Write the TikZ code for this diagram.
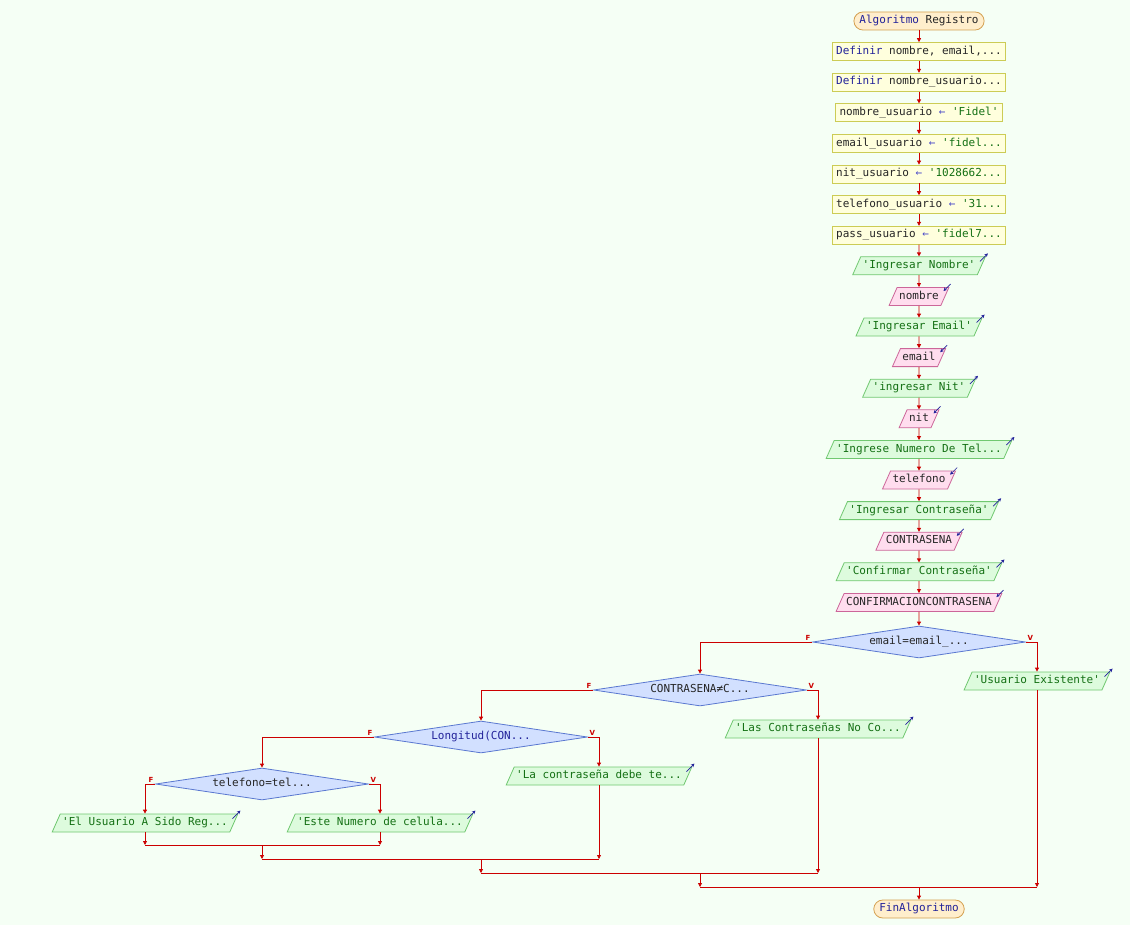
\documentclass[tikz,border=0pt]{standalone}
\usepackage{fontspec}
\setmonofont{DejaVu Sans Mono}
\setsansfont{DejaVu Sans}
\usetikzlibrary{arrows.meta,positioning,shapes.geometric,calc}
\definecolor{fondo}{HTML}{F5FFF5}
\definecolor{flecha}{HTML}{CC0000}
\definecolor{clave}{HTML}{22229A}
\definecolor{cadena}{HTML}{147014}
\definecolor{asigna}{HTML}{4848C8}
\definecolor{termfill}{HTML}{FFEECC}
\definecolor{termborde}{HTML}{D4A050}
\definecolor{procfill}{HTML}{FFFFDD}
\definecolor{procborde}{HTML}{CCCC55}
\definecolor{salfill}{HTML}{DDFBDD}
\definecolor{salborde}{HTML}{70C870}
\definecolor{entfill}{HTML}{FFDDEE}
\definecolor{entborde}{HTML}{CC6699}
\definecolor{decfill}{HTML}{D2E0FF}
\definecolor{decborde}{HTML}{5A78D0}
\tikzset{%
   base/.style={
      draw,
      line width=0.8pt,
      font=\ttfamily\fontsize{11}{13}\selectfont,
      text=black!85,
      text height=8pt,
      text depth=2.5pt,
      inner ysep=3.75pt,
      inner xsep=4pt
   },
   term/.style={
      base,
      rounded corners=9pt,
      inner xsep=5.5pt,
      fill=termfill,
      draw=termborde
   },
   proc/.style={
      base,
      fill=procfill,
      draw=procborde
   },
   es/.style={
      base,
      trapezium,
      trapezium left angle=66,
      trapezium right angle=114,
      inner xsep=2pt
   },
   sal/.style={
      es, fill=salfill, draw=salborde
   },
   ent/.style={
      es, fill=entfill, draw=entborde
   },
   deci/.style={
      base,
      diamond,
      aspect=6.6,
      inner sep=0pt,
      minimum width=213pt,
      minimum height=32pt,
      fill=decfill,
      draw=decborde
   },
   flujo/.style={
      draw=flecha,
      line width=0.8pt,
      -{Triangle[length=4pt,width=4pt]}
   },
   linea/.style={
      draw=flecha,
      line width=0.8pt
   },
   etiq/.style={
      font=\sffamily\bfseries\fontsize{7}{8}\selectfont,
      text=flecha,
      inner sep=1.5pt
   },
   io/.style={
      draw=clave,
      line width=0.7pt,
      -{Stealth[length=3.5pt,width=3.5pt]}
   },
}
\newcommand\pkw[1]{\textcolor{clave}{#1}}
\newcommand\pcad[1]{\textcolor{cadena}{#1}}
\newcommand\pasig{\textcolor{asigna}{←}}

\begin{document}
\begin{tikzpicture}[x=1pt, y=-1pt, node distance=11.8pt]
      \fill[fondo] (0,0) rectangle (1130,925);
      \useasboundingbox (0,0) rectangle (1130,925);
      % columna principal
      \node[term] (inicio) at (919,21) {\pkw{Algoritmo} Registro};
      \node[proc, below=of inicio] (defvars) {\pkw{Definir} nombre, email,...};
      \node[proc, below=of defvars] (defusr) {\pkw{Definir} nombre\_usuario...};
      \node[proc, below=of defusr] (nomusr) {nombre\_usuario \pasig{} \pcad{'Fidel'}};
      \node[proc, below=of nomusr] (emailusr) {email\_usuario \pasig{} \pcad{'fidel...}};
      \node[proc, below=of emailusr] (nitusr) {nit\_usuario \pasig{} \pcad{'1028662...}};
      \node[proc, below=of nitusr] (telusr) {telefono\_usuario \pasig{} \pcad{'31...}};
      \node[proc, below=of telusr] (passusr) {pass\_usuario \pasig{} \pcad{'fidel7...}};
      \node[sal, below=of passusr] (pnombre) {\pcad{'Ingresar Nombre'}};
      \node[ent, below=of pnombre] (lnombre) {nombre};
      \node[sal, below=of lnombre] (pemail) {\pcad{'Ingresar Email'}};
      \node[ent, below=of pemail] (lemail) {email};
      \node[sal, below=of lemail] (pnit) {\pcad{'ingresar Nit'}};
      \node[ent, below=of pnit] (lnit) {nit};
      \node[sal, below=of lnit] (ptel) {\pcad{'Ingrese Numero De Tel...}};
      \node[ent, below=of ptel] (ltel) {telefono};
      \node[sal, below=of ltel] (pcon) {\pcad{'Ingresar Contraseña'}};
      \node[ent, below=of pcon] (lcon) {CONTRASENA};
      \node[sal, below=of lcon] (pconf) {\pcad{'Confirmar Contraseña'}};
      \node[ent, below=of pconf] (lconf) {CONFIRMACIONCONTRASENA};
      \foreach \a/\b in {inicio/defvars, defvars/defusr, defusr/nomusr, nomusr/emailusr,
            emailusr/nitusr, nitusr/telusr, telusr/passusr, passusr/pnombre, pnombre/lnombre,
            lnombre/pemail, pemail/lemail, lemail/pnit, pnit/lnit, lnit/ptel, ptel/ltel,
            ltel/pcon, pcon/lcon, lcon/pconf, pconf/lconf}
         \draw[flujo] (\a) -- (\b);
      % decisiones
      \node[deci] (siemail) at (919,642) {email=email\_...};
      \node[sal] (existe) at (1037,681) {\pcad{'Usuario Existente'}};
      \node[deci] (sicon) at (700,690) {CONTRASENA≠C...};
      \node[sal] (nocoin) at (818,729) {\pcad{'Las Contraseñas No Co...}};
      \node[deci] (silong) at (481,737) {\pkw{Longitud(CON...}};
      \node[sal] (corta) at (599,776) {\pcad{'La contraseña debe te...}};
      \node[deci] (sitel) at (262,784) {telefono=tel...};
      \node[sal] (registrado) at (145,823) {\pcad{'El Usuario A Sido Reg...}};
      \node[sal] (celular) at (380,823) {\pcad{'Este Numero de celula...}};
      \node[term] (fin) at (919,909) {\pkw{FinAlgoritmo}};
      \draw[flujo] (lconf) -- (siemail);
      \foreach \d/\f/\v in {siemail/sicon/existe, sicon/silong/nocoin,
            silong/sitel/corta, sitel/registrado/celular} {
         \draw[flujo] (\d.west) -| (\f);
         \draw[flujo] (\d.east) -| (\v);
         \node[etiq, above left] at (\d.west) {F};
         \node[etiq, above right] at (\d.east) {V};
      }
      % flechas de entrada y salida
      \foreach \n in {pnombre, pemail, pnit, ptel, pcon, pconf, existe, nocoin,
            corta, registrado, celular}
         \draw[io] ($(\n.top right corner)+(-6pt,-5pt)$) -- ($(\n.top right corner)+(2pt,3pt)$);
      \foreach \n in {lnombre, lemail, lnit, ltel, lcon, lconf}
         \draw[io] ($(\n.top right corner)+(1pt,3pt)$) -- ($(\n.top right corner)+(-6pt,-4pt)$);
      % uniones
      \coordinate (utel) at (262,845);
      \coordinate (ulong) at (481,859);
      \coordinate (ucon) at (700,873);
      \coordinate (uemail) at (919,887);
      \draw[flujo] (registrado) -- (registrado |- utel);
      \draw[flujo] (celular) -- (celular |- utel);
      \draw[linea] (registrado |- utel) -- (celular |- utel);
      \draw[flujo] (utel) -- (utel |- ulong);
      \draw[flujo] (corta) -- (corta |- ulong);
      \draw[linea] (utel |- ulong) -- (corta |- ulong);
      \draw[flujo] (ulong) -- (ulong |- ucon);
      \draw[flujo] (nocoin) -- (nocoin |- ucon);
      \draw[linea] (ulong |- ucon) -- (nocoin |- ucon);
      \draw[flujo] (ucon) -- (ucon |- uemail);
      \draw[flujo] (existe) -- (existe |- uemail);
      \draw[linea] (ucon |- uemail) -- (existe |- uemail);
      \draw[flujo] (uemail) -- (fin);
\end{tikzpicture}
\end{document}
